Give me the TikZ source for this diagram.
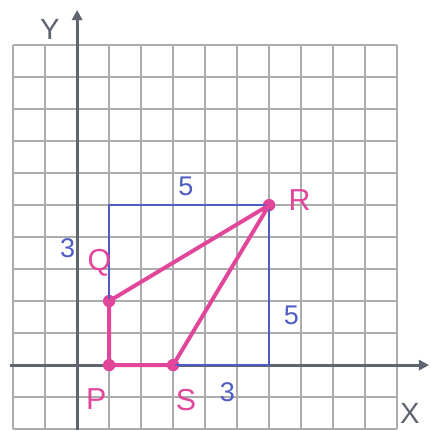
\documentclass[tikz,border=0pt]{standalone}
\usepackage{fontspec}
\setsansfont{Liberation Sans}
\usepackage{tikz}
\usetikzlibrary{positioning,arrows.meta}
\definecolor{pinkpen}{HTML}{E2469B}
\definecolor{bluepen}{HTML}{4F5CC4}
\definecolor{pencil}{HTML}{5E6470}

\begin{document}
\begin{tikzpicture}[
    gridline/.style={line width=2.4pt, gray!65},
    axisline/.style={line width=2.8pt, pencil, -{Triangle[length=9pt,width=9pt]}},
    dot/.style={circle, fill=pinkpen, inner sep=0pt, minimum size=11pt},
    pinkline/.style={line width=3.5pt, pinkpen, line join=round, line cap=round},
    blueline/.style={line width=1.4pt, bluepen},
    pinklabel/.style={pinkpen, font=\sffamily\fontsize{27}{29}\selectfont},
    bluelabel/.style={bluepen, font=\sffamily\fontsize{24}{26}\selectfont},
    axislabel/.style={pencil, font=\sffamily\fontsize{26}{28}\selectfont}
  ]
        \useasboundingbox (-2.41,-2.03) rectangle (11.06,11.41);
        \draw[gridline] (-2,-2) grid (10,10);
        
        % axes
        \coordinate (xstart) at (-2.1,0);
        \coordinate (xend) at (11,0);
        \coordinate (ystart) at (0,-2.03);
        \coordinate (yend) at (0,11.1);
        \draw[axisline] (xstart) -- (xend);
        \draw[axisline] (ystart) -- (yend);
        \node[axislabel] (ylab) at (-0.85,10.5) {Y};
        \node[axislabel] (xlab) at (10.4,-1.5) {X};
        
        % points
        \node[dot] (P) at (1,0) {};
        \node[dot] (S) at (3,0) {};
        \node[dot] (Q) at (1,2) {};
        \node[dot] (R) at (6,5) {};
        \coordinate (corner) at (1,5);
        \coordinate (foot) at (6,0);
        
        % blue guide lines
        \draw[blueline] (Q.center) -- (corner) -- (R.center) -- (foot) -- (S.center);
        \node[bluelabel] (top5) at (3.4,5.6) {5};
        \node[bluelabel] (left3) at (-0.3,3.65) {3};
        \node[bluelabel] (right5) at (6.7,1.55) {5};
        \node[bluelabel] (bot3) at (4.7,-0.85) {3};
        
        % quadrilateral
        \draw[pinkline] (P.center) -- (Q.center) -- (R.center) -- (S.center) -- (P.center);
        \node[pinklabel] (Plab) at (0.6,-1.05) {P};
        \node[pinklabel] (Slab) at (3.4,-1.1) {S};
        \node[pinklabel] (Qlab) at (0.7,3.2) {Q};
        \node[pinklabel] (Rlab) at (6.95,5.15) {R};
    \end{tikzpicture}
\end{document}
